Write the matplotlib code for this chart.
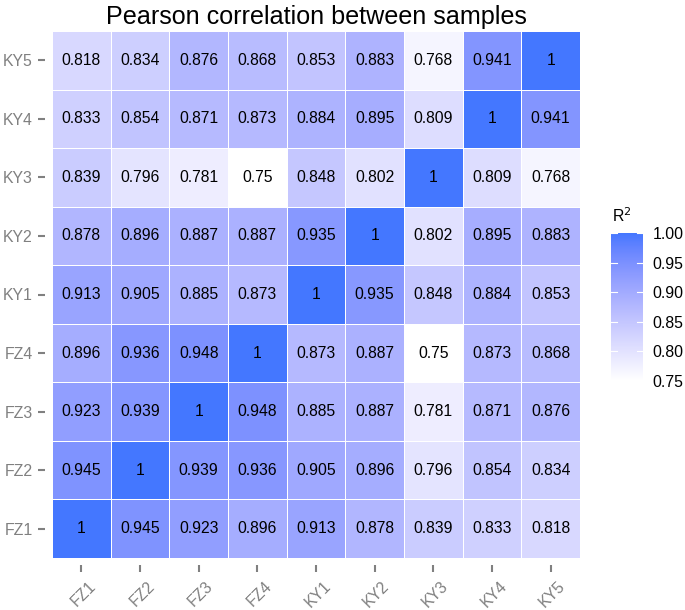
import matplotlib
matplotlib.use("Agg")
import matplotlib.pyplot as plt
import numpy as np
from matplotlib.colors import ListedColormap, Normalize, to_rgb
from matplotlib.transforms import ScaledTranslation

plt.rcParams['font.family'] = ['Liberation Sans', 'DejaVu Sans']

samples = ["FZ1", "FZ2", "FZ3", "FZ4", "KY1", "KY2", "KY3", "KY4", "KY5"]
row_FZ1 = [1, 0.945, 0.923, 0.896, 0.913, 0.878, 0.839, 0.833, 0.818]
row_FZ2 = [0.945, 1, 0.939, 0.936, 0.905, 0.896, 0.796, 0.854, 0.834]
row_FZ3 = [0.923, 0.939, 1, 0.948, 0.885, 0.887, 0.781, 0.871, 0.876]
row_FZ4 = [0.896, 0.936, 0.948, 1, 0.873, 0.887, 0.75, 0.873, 0.868]
row_KY1 = [0.913, 0.905, 0.885, 0.873, 1, 0.935, 0.848, 0.884, 0.853]
row_KY2 = [0.878, 0.896, 0.887, 0.887, 0.935, 1, 0.802, 0.895, 0.883]
row_KY3 = [0.839, 0.796, 0.781, 0.75, 0.848, 0.802, 1, 0.809, 0.768]
row_KY4 = [0.833, 0.854, 0.871, 0.873, 0.884, 0.895, 0.809, 1, 0.941]
row_KY5 = [0.818, 0.834, 0.876, 0.868, 0.853, 0.883, 0.768, 0.941, 1]
cbar_ticks = [0.75, 0.80, 0.85, 0.90, 0.95, 1.00]

M = np.array([row_FZ1, row_FZ2, row_FZ3, row_FZ4, row_KY1, row_KY2, row_KY3, row_KY4, row_KY5])
n = len(samples)


# Lab-space gradient (like ggplot2's scale_fill_gradient)
def srgb_to_lab(rgb):
    rgb = np.asarray(rgb, float)
    lin = np.where(rgb <= 0.04045, rgb / 12.92, ((rgb + 0.055) / 1.055) ** 2.4)
    Mx = np.array([[0.4124, 0.3576, 0.1805], [0.2126, 0.7152, 0.0722], [0.0193, 0.1192, 0.9505]])
    xyz = Mx @ lin
    wp = np.array([0.95047, 1.0, 1.08883])
    t = xyz / wp
    f = np.where(t > (6 / 29) ** 3, np.cbrt(t), t / (3 * (6 / 29) ** 2) + 4 / 29)
    return np.array([116 * f[1] - 16, 500 * (f[0] - f[1]), 200 * (f[1] - f[2])])


def lab_to_srgb(lab):
    L, a, b = lab
    fy = (L + 16) / 116
    fx = fy + a / 500
    fz = fy - b / 200
    f = np.array([fx, fy, fz])
    t = np.where(f > 6 / 29, f ** 3, 3 * (6 / 29) ** 2 * (f - 4 / 29))
    xyz = t * np.array([0.95047, 1.0, 1.08883])
    Minv = np.array([[3.2406, -1.5372, -0.4986], [-0.9689, 1.8758, 0.0415], [0.0557, -0.2040, 1.0570]])
    lin = Minv @ xyz
    lin = np.clip(lin, 0, 1)
    rgb = np.where(lin <= 0.0031308, 12.92 * lin, 1.055 * lin ** (1 / 2.4) - 0.055)
    return np.clip(rgb, 0, 1)


lo = srgb_to_lab(to_rgb("#FFFFFF"))
hi = srgb_to_lab(to_rgb("#4477FF"))
cols = [lab_to_srgb(lo + (hi - lo) * s) for s in np.linspace(0, 1, 256)]
cmap = ListedColormap(cols)
norm = Normalize(vmin=0.75, vmax=1.0)

fig = plt.figure(figsize=(6.85, 6.1), dpi=100)
ax = fig.add_axes([52 / 685, 52 / 610, 528 / 685, 527 / 610])
ax.spines['left'].set_position(('outward', 5))
ax.spines['bottom'].set_position(('outward', 5))
for sp in ax.spines.values():
    sp.set_visible(False)

mesh = ax.pcolormesh(np.arange(n + 1) - 0.5, np.arange(n + 1) - 0.5, M, cmap=cmap, norm=norm,
                     edgecolor="white", linewidth=0.6)
for i in range(n):
    for j in range(n):
        v = M[i, j]
        s = "1" if v == 1 else f"{v:g}"
        ax.text(j, i, s, ha="center", va="center", fontsize=11.3, color="black")
ax.set_xlim(-0.5, n - 0.5)
ax.set_ylim(-0.5, n - 0.5)
ax.set_xticks(range(n))
ax.set_yticks(range(n))
ax.set_xticklabels(samples, rotation=45, ha="right", va="top", rotation_mode="anchor",
                   fontsize=11.4, color="#808080")
ax.set_yticklabels(samples, fontsize=11.4, color="#808080")
ax.tick_params(axis="both", length=5, width=1.5, color="#808080")
ax.tick_params(axis="y", pad=4)
ax.tick_params(axis="x", pad=5)
off = ScaledTranslation(7 / 100, 0, fig.dpi_scale_trans)
for lbl in ax.get_xticklabels():
    lbl.set_transform(lbl.get_transform() + off)
ax.set_title("Pearson correlation between samples", fontsize=18.1, pad=5)

cax = fig.add_axes([611 / 685, (610 - 381) / 610, 32 / 685, 148 / 610])
cb = fig.colorbar(mesh, cax=cax, ticks=cbar_ticks)
cb.outline.set_visible(False)
cax.tick_params(length=0, labelsize=11.4, pad=7, colors="black")
cax.set_yticklabels([f"{t:.2f}" for t in cbar_ticks])
for t in cbar_ticks:
    cax.plot([0, 0.2], [t, t], color="white", lw=0.8, transform=cax.get_yaxis_transform())
    cax.plot([0.8, 1.0], [t, t], color="white", lw=0.8, transform=cax.get_yaxis_transform())
fig.text(612 / 685, 1 - 222 / 610, "R$^2$", fontsize=11.4, ha="left", va="baseline")

fig.savefig("out.png", dpi=100)
